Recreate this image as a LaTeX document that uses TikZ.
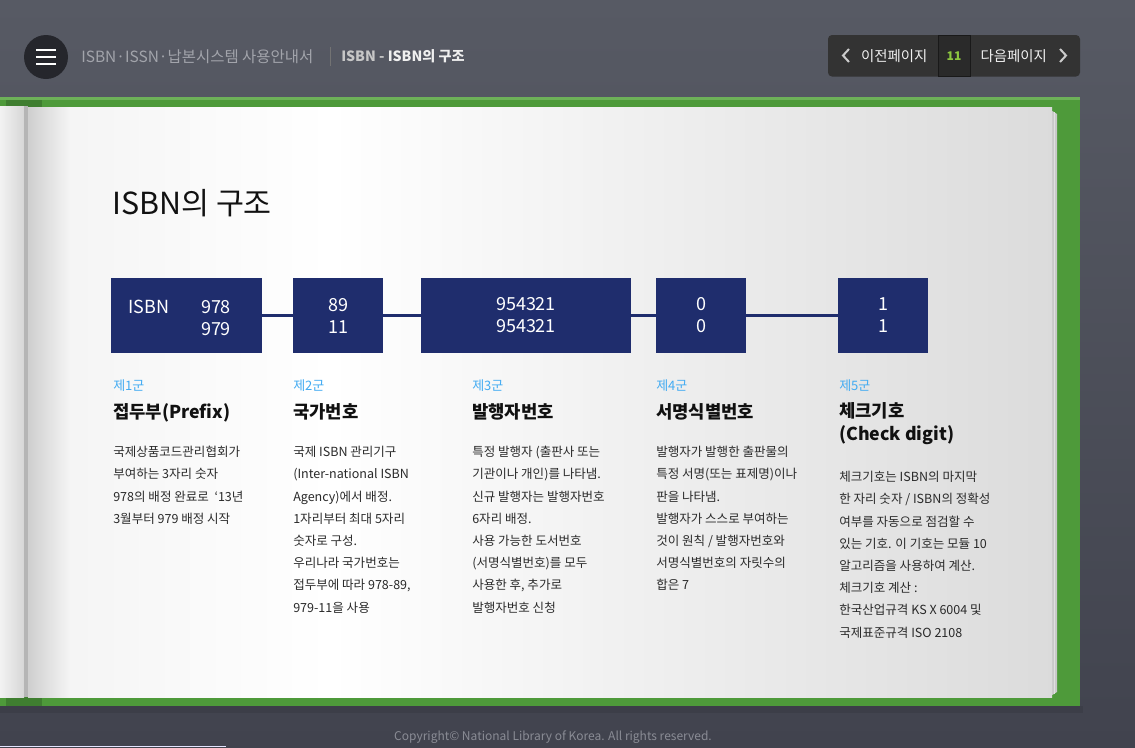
\documentclass[tikz,border=0pt]{standalone}
\usepackage{fontspec}
\setmainfont{Noto Sans CJK KR}
\usetikzlibrary{positioning}
\definecolor{IsbnNavy}{HTML}{1F2D6D}
\definecolor{IsbnSky}{HTML}{42ABF2}
\definecolor{IsbnInk}{HTML}{2A2A2A}
\definecolor{IsbnDark}{HTML}{111111}
\definecolor{IsbnGreen}{HTML}{4E9A3A}
\definecolor{IsbnGreenDark}{HTML}{3F7E30}
\definecolor{IsbnGreenLight}{HTML}{6DB158}
\definecolor{IsbnBgTop}{HTML}{575A64}
\definecolor{IsbnBgBottom}{HTML}{41434E}
\definecolor{IsbnPanel}{HTML}{333333}
\definecolor{IsbnCell}{HTML}{2A2A2A}
\definecolor{IsbnMuted}{HTML}{A2A4AB}
\definecolor{IsbnFoot}{HTML}{8A8C95}
\definecolor{IsbnLime}{HTML}{8CC63F}
\definecolor{IsbnMenu}{HTML}{25262C}

\begin{document}
\begin{tikzpicture}[x=0.75pt,y=-0.75pt,
    numbox/.style={fill=IsbnNavy,minimum height=56.25pt,inner sep=0,outer sep=0,
      text=white,align=center,font=\fontsize{13.5}{16.5}\selectfont},
    grouptag/.style={anchor=base west,inner sep=0,text=IsbnSky,
      font=\fontsize{9.75}{11}\selectfont},
    grouphead/.style={anchor=base west,inner sep=0,text=IsbnDark,
      font=\bfseries\fontsize{13.3}{17.25}\selectfont},
    groupbody/.style={anchor=north west,inner sep=0,align=left,text=IsbnInk,
      font=\fontsize{9.4}{16.65}\selectfont},
    navtext/.style={inner sep=0,text=white!94!black,
      font=\fontsize{10.8}{12}\selectfont}]
  \useasboundingbox (0,0) rectangle (1135,747);
  % backdrop and book cover
  \shade[top color=IsbnBgTop,bottom color=IsbnBgBottom] (0,0) rectangle (1135,747);
  \fill[black,opacity=0.08] (0,706) rectangle (1083,713);
  \fill[IsbnGreen] (0,97) rectangle (1080,706);
  \fill[IsbnGreenLight] (0,97) rectangle (1080,99.5);
  \fill[IsbnGreenDark] (6,100) rectangle (42,107);
  \fill[IsbnGreenDark] (6,697) rectangle (42,706);
  % pages
  \shade[left color=black!5,right color=black!16] (0,106) rectangle (24,697);
  \fill[black!29] (24,106) rectangle (28,697);
  \fill[black!21] (1049,109) -- (1057,114) -- (1057,692) -- (1049,697) -- cycle;
  \draw[black!12] (1054,112) -- (1054,694);
  \shade[left color=black!19,right color=black!4] (28,107) rectangle (70,697);
  \shade[left color=black!4,right color=white] (70,107) rectangle (330,697);
  \shade[left color=white,right color=black!14] (330,107) rectangle (1052,697);
  % header
  \node[circle,fill=IsbnMenu,minimum size=33pt,inner sep=0] (menu) at (46,57) {};
  \foreach \dy in {-7,0,7}
    \draw[white,line width=1.9pt] (36,57+\dy) -- (56,57+\dy);
  \node[anchor=base west,inner sep=0,text=IsbnMuted,
    font=\fontsize{11.6}{14}\selectfont] (guide) at (81,62) {ISBN·ISSN·납본시스템 사용안내서};
  \draw[black!55] (330,47) -- (330,66);
  \node[anchor=base west,inner sep=0,font=\bfseries\fontsize{10.6}{12}\selectfont]
    (crumb) at (341,61.5) {\textcolor{black!22}{ISBN -} \textcolor{black!6}{ISBN의 구조}};
  % page navigation
  \fill[IsbnPanel,rounded corners=3pt] (828,35) rectangle (1080,76.5);
  \node[draw=black!90,fill=IsbnCell,minimum width=24pt,minimum height=31pt,inner sep=0,
    text=IsbnLime,font=\bfseries\fontsize{9}{10}\selectfont] (pageno) at (954,55.75) {11};
  \node[navtext,left=7.5pt of pageno] (prevpage) {이전페이지};
  \node[navtext,right=7.5pt of pageno] (nextpage) {다음페이지};
  \draw[black!20,line width=1.5pt] (849,49) -- (843,55.5) -- (849,62);
  \draw[black!20,line width=1.5pt] (1060,49) -- (1066,55.5) -- (1060,62);
  % title
  \node[anchor=base west,inner sep=0,text=IsbnDark,
    font=\fontsize{22.8}{26}\selectfont] (title) at (112,214) {ISBN의 구조};
  % number groups
  \node[numbox,minimum width=113.25pt] (b1) at (186.5,315.5) {};
  \node[anchor=base west,inner sep=0,text=white,
    font=\fontsize{13.5}{16.5}\selectfont] (b1tag) at (128,313) {ISBN};
  \node[inner sep=0,text=white,align=center,
    font=\fontsize{13.5}{16.5}\selectfont] (b1num) at (216,318) {978\\979};
  \node[numbox,minimum width=67.5pt,right=23.25pt of b1] (b2) {89\\11};
  \node[numbox,minimum width=157.5pt,right=28.5pt of b2] (b3) {954321\\954321};
  \node[numbox,minimum width=67.5pt,right=18.75pt of b3] (b4) {0\\0};
  \node[numbox,minimum width=67.5pt,right=69pt of b4] (b5) {1\\1};
  \draw[IsbnNavy,line width=2.25pt] (b1) -- (b2) (b2) -- (b3) (b3) -- (b4) (b4) -- (b5);
  % group 1
  \node[grouptag] (g1tag) at (113,390) {제1군};
  \node[grouphead] (g1head) at (113,418) {접두부(Prefix)};
  \node[groupbody] (g1body) at (113,446) {국제상품코드관리협회가\\
    부여하는 3자리 숫자\\
    978의 배정 완료로~ ‘13년\\
    3월부터 979 배정 시작};
  % group 2
  \node[grouptag] (g2tag) at (293,390) {제2군};
  \node[grouphead] (g2head) at (293,418) {국가번호};
  \node[groupbody] (g2body) at (293,446) {국제 ISBN 관리기구\\
    (Inter-national ISBN\\
    Agency)에서 배정.\\
    1자리부터 최대 5자리\\
    숫자로 구성.\\
    우리나라 국가번호는\\
    접두부에 따라 978-89,\\
    979-11을 사용};
  % group 3
  \node[grouptag] (g3tag) at (472,390) {제3군};
  \node[grouphead] (g3head) at (472,418) {발행자번호};
  \node[groupbody] (g3body) at (472,446) {특정 발행자 (출판사 또는\\
    기관이나 개인)를 나타냄.\\
    신규 발행자는 발행자번호\\
    6자리 배정.\\
    사용 가능한 도서번호\\
    (서명식별번호)를 모두\\
    사용한 후, 추가로\\
    발행자번호 신청};
  % group 4
  \node[grouptag] (g4tag) at (656,390) {제4군};
  \node[grouphead] (g4head) at (656,418) {서명식별번호};
  \node[groupbody] (g4body) at (656,446) {발행자가 발행한 출판물의\\
    특정 서명(또는 표제명)이나\\
    판을 나타냄.\\
    발행자가 스스로 부여하는\\
    것이 원칙 / 발행자번호와\\
    서명식별번호의 자릿수의\\
    합은 7};
  % group 5
  \node[grouptag] (g5tag) at (839,390) {제5군};
  \node[grouphead,anchor=north west,align=left] (g5head) at (839,402) {체크기호\\(Check digit)};
  \node[groupbody] (g5body) at (839,471) {체크기호는 ISBN의 마지막\\
    한 자리 숫자 / ISBN의 정확성\\
    여부를 자동으로 점검할 수\\
    있는 기호. 이 기호는 모듈 10\\
    알고리즘을 사용하여 계산.\\
    체크기호 계산 :\\
    한국산업규격 KS X 6004 및\\
    국제표준규격 ISO 2108};
  % footer
  \node[text=IsbnFoot,inner sep=0,font=\fontsize{9}{10}\selectfont]
    (copyright) at (553,737) {Copyright© National Library of Korea. All rights reserved.};
  \fill[blue!10!white] (0,745.5) rectangle (226,747);
\end{tikzpicture}
\end{document}
